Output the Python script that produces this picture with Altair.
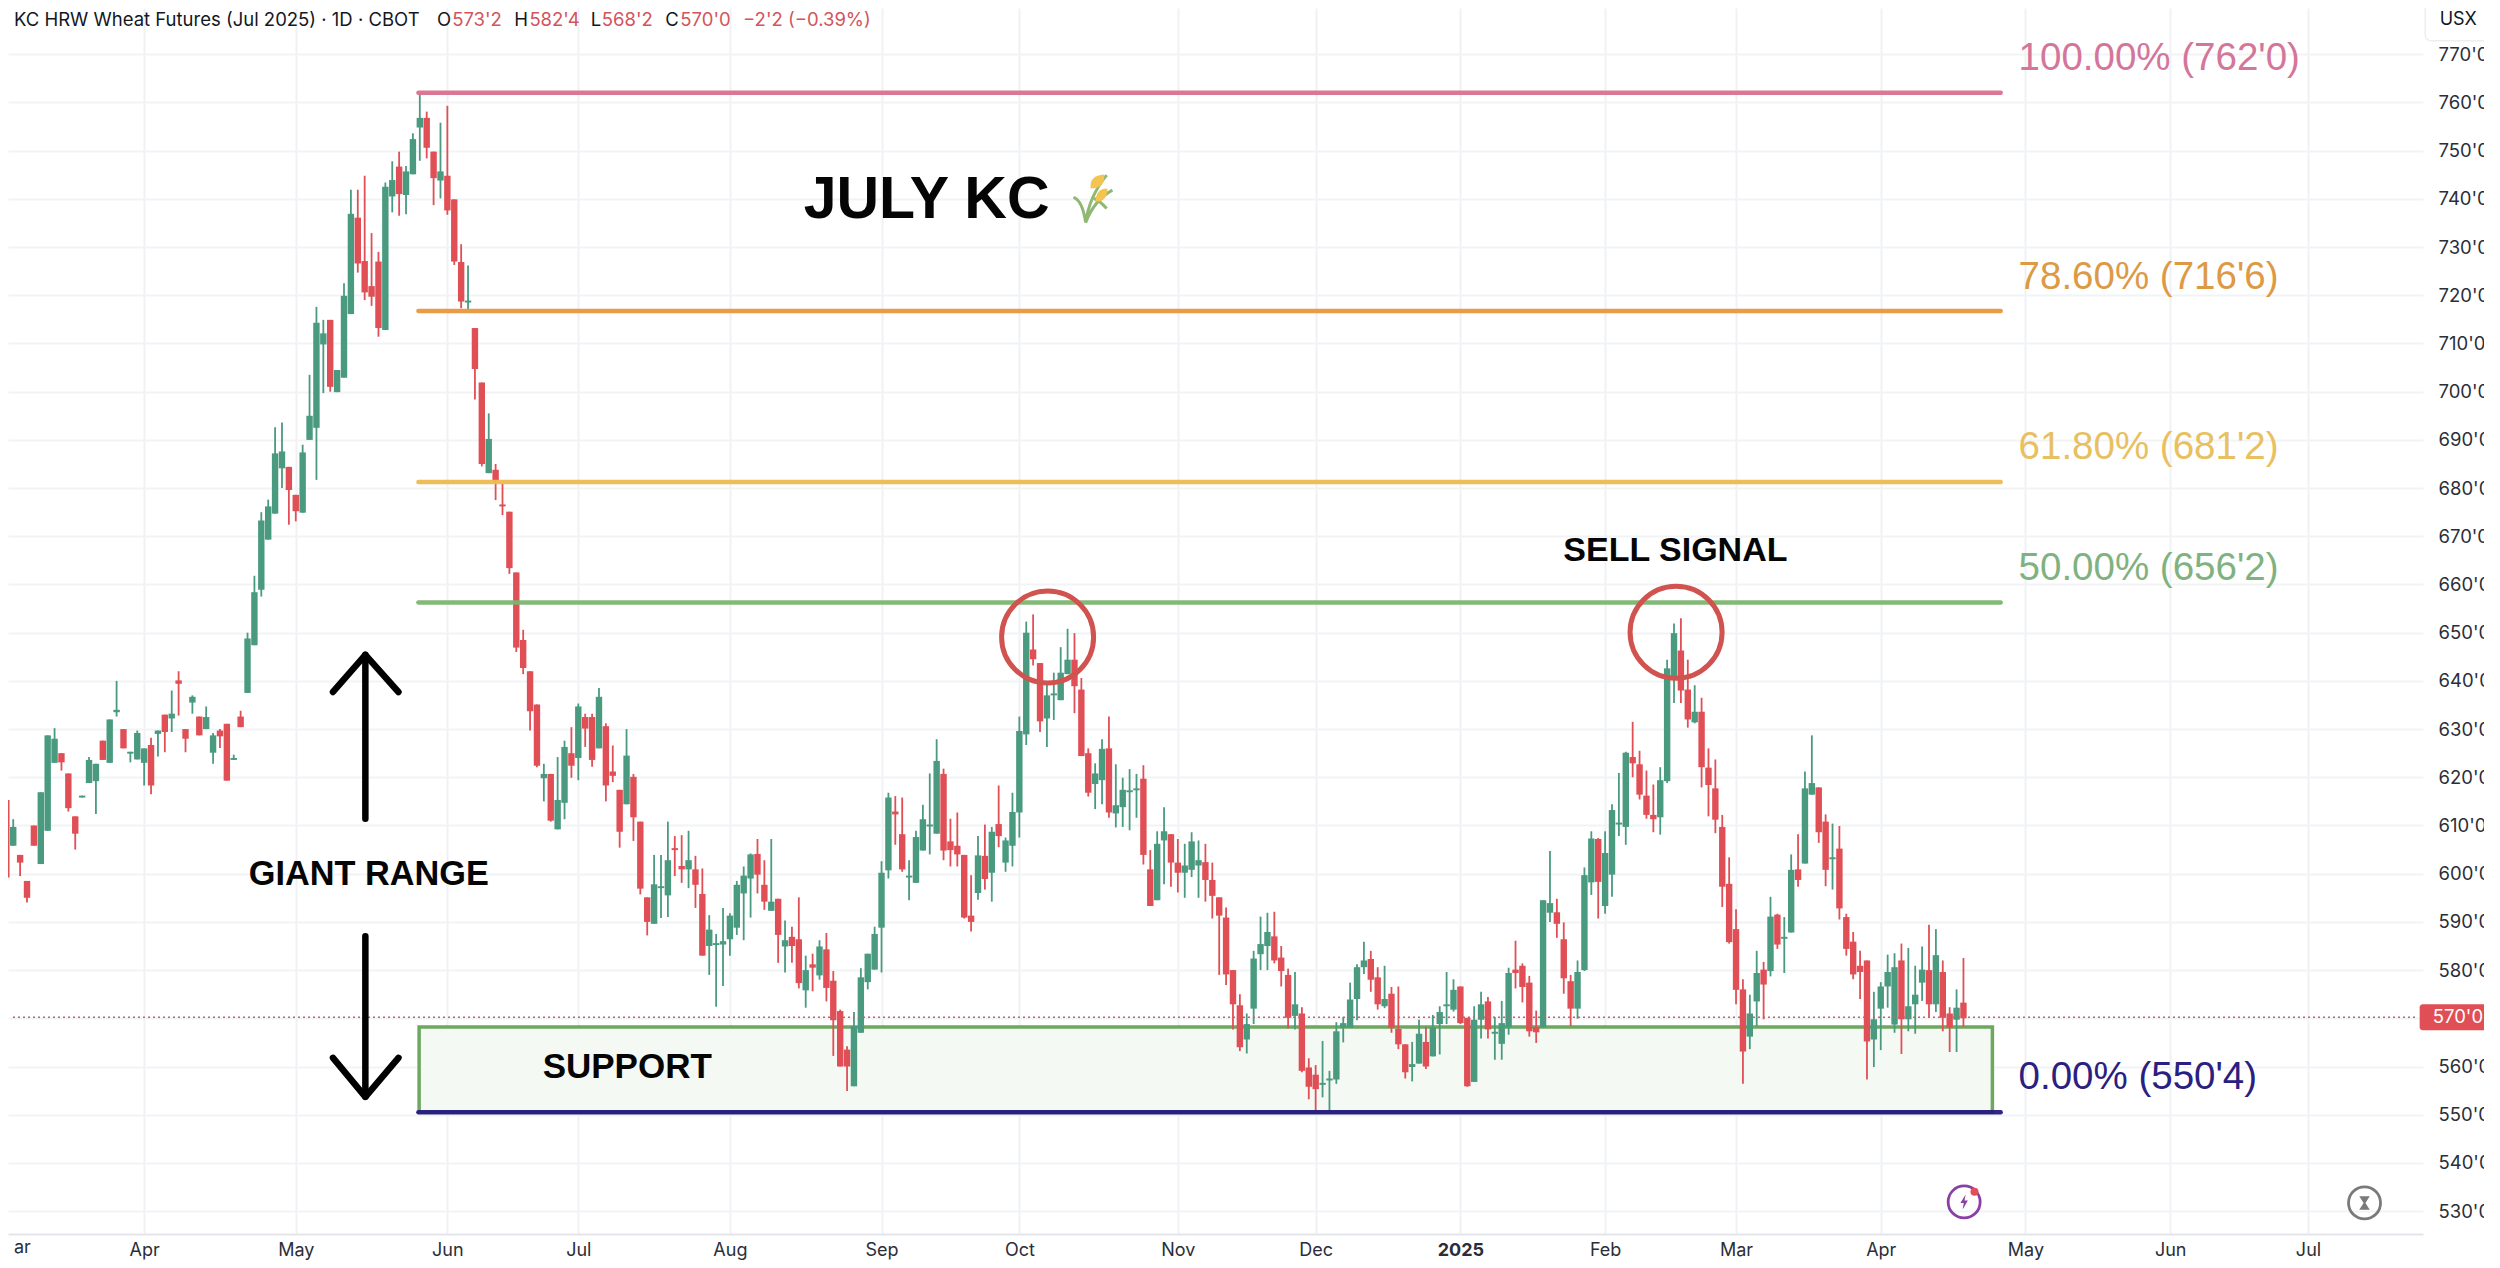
import altair as alt
import pandas as pd

opens = [
615.3,605.8,603.9,598.5,610,602,608.9,623,625,620.8,
611.9,615.8,618.8,619.2,627.6,623,633.5,630,624.9,623.7,
623,626.7,629,633,632.2,640.1,630,635.5,632.6,630,
625.1,629.7,631.1,623.6,632.6,637.5,647.4,658.9,669.3,674.7,
684.1,684.4,678.6,674.9,690,692.5,709.8,714.9,699.9,702.9,
716.1,736.1,727.1,721.9,727,712.8,740.5,746.7,740.8,745.1,
754.8,756.8,749.8,743.8,744.8,739.9,726.9,718.5,713.2,701.9,
683.1,683.8,676.6,675.1,662.5,648.5,642,635.1,619.8,620.7,
609.2,614.7,625,624,632.5,632.5,626,630.6,621.2,617.4,
614.4,620.1,610.8,595.1,589.6,597,595.5,605.3,601.6,600.9,
600.9,595.8,585,585.2,585.3,586.4,588.8,595.9,599,604.1,
597.7,592.3,594.8,584.9,586.9,586.4,575.8,581.2,578.9,584.3,
577.8,571.5,563.5,555.9,567,577.5,580.1,588.8,600.7,612.9,
608.2,599.2,598.1,604.8,609.8,608.3,620.7,606.7,605.8,603.9,
591.3,596,603.7,600.2,610.3,602.3,605.8,612.7,628.9,646.5,
643.7,632.2,637,636,641.4,644.4,638.2,625,618.6,619.4,
626,612.5,613.8,616.9,617.3,619.7,600.9,594.5,606.9,608.2,
602.3,600.2,600.8,601.7,602.4,598.7,595.1,590.9,580,572.7,
565.6,572,583.3,585,587,582.6,579,570.5,571,559.8,
558.3,556.2,557.1,557.3,568,568,574,580.6,582.3,578.5,
572.5,575.1,567.8,564.6,559.9,560.6,565.1,562.1,568.8,572.5,
571.8,576.6,570.1,556.8,569.7,573.5,566.8,564.7,568.1,580.1,
580.9,577.4,568.2,568.1,591.9,592,586.4,577.7,572,580,
598.2,607.2,593.3,599.8,610.2,609.7,624.2,622.7,616.2,612.2,
611.7,619.2,640.6,646.3,638.2,631.4,633.6,622,617.7,609.7,
597.9,588.5,576,566.2,573.5,580.1,579.8,591.5,586.5,587.8,
600.9,602.1,616.4,617.9,610.8,603,605.2,591,585.9,580.9,
582,565.6,572,576.6,568.7,582,569.8,572.9,577.4,580,
572.9,579.6,571,569.7,573.25]

closes = [
599.2,609.7,602.3,595,605.8,616.9,628.7,628,623.1,613.6,
608.3,616.2,623.6,622.8,623.6,632,634,626,625.3,629.2,
626,618.3,629.7,629.4,633.2,639.4,628,636.7,628.7,632.5,
628.7,628.5,619.3,624,630.4,648.8,658.4,673.3,676.2,687.2,
687.6,679.6,675.2,687.4,695,714.3,712.1,701,704.5,719.9,
736.9,726.6,720.6,719.7,713.2,742.5,743.9,741,745.7,752.4,
756.8,750.6,744.3,745.7,737.6,727,718.7,718.9,704.7,685,
690.2,681.5,676.2,663.4,646.9,642.7,633.7,622.4,620.7,611,
615.3,626.3,622.4,634.7,630.1,623.6,636.7,618.3,620.3,608.7,
624.5,611.7,596.9,590,597.8,597.4,602.8,604.9,600.9,602.8,
597.7,583,588.4,585.6,586,591.3,597.7,599.6,604,599.8,
594.2,594.2,587.3,586.2,585,577.3,580,580.5,584.9,576.3,
569.6,560,560,568.4,578.5,583.4,587.5,600.2,615.8,612.3,
600.9,599.6,607.6,611.3,610.2,623.4,604.8,604.9,604,590.9,
590,603.8,598.9,608.7,607.8,606.9,612.8,629.6,650,644.5,
631.6,637,637.4,641.7,644.4,638.9,624.4,616.8,620.8,625.9,
612.7,614.2,617.4,617.3,617.7,603.9,593.3,606.2,608.8,602.3,
600.2,601.7,606.7,602.8,598.7,595.4,591.3,579.1,572.9,564,
568.8,582.4,585.4,587.9,582,579.8,570.1,572.9,559.1,555.8,
555.3,556.6,557.5,567.3,569,573.9,580.6,582,578,572.9,
574,568,564.6,558.8,560.5,566.8,560,568.1,571.3,572.9,
575.9,569,555.9,569.7,572.9,567.7,567.2,569,579.4,579.4,
576.5,567.3,567.1,594.5,593.9,589.6,578.3,572,579.6,599.7,
607.3,598.3,604.3,613.2,610.6,625.1,622.9,616.4,612.2,611.3,
619.4,642.6,649.9,638,632,633.6,622.1,618.4,611.2,597.3,
585.8,575.9,563.1,571,579.4,577,591.1,585.3,586.9,600.8,
598.7,617.7,618.8,608.6,600.8,603.4,592.8,584.4,579.1,579.6,
565.2,569.8,576.6,579.6,580.6,569.8,572.5,574.9,580.1,572.9,
583.1,570.1,568.1,572.2,570]

highs = [
615.3,611.3,603.9,598.5,610,616.9,628.7,630.2,625,620.8,
611.9,616.2,624.2,622.8,627.6,632,640,630,625.3,629.7,
626,628.2,629.7,633,638,642,630,637,632.6,634.7,
629.2,630,631.1,624.7,633.8,650,661.8,675,677.6,692.6,
693.6,684.4,678.6,689,703.5,717.6,714.9,714.9,704.5,722.5,
741.9,741.9,744.8,732.9,729,743.4,747.8,749.8,746.8,753.6,
761.6,758.1,749.8,755.8,759.3,739.9,730.6,726.2,713.2,701.9,
695.5,685,681,675.1,662.5,650.6,642,635.1,622.8,620.7,
624.2,627.6,630.4,635.3,633.2,633.2,638.5,631.2,626.6,617.4,
630,620.7,610.8,595.1,603.9,603.9,610.8,607.8,608,608.9,
603.7,601.1,591.4,587.5,592.9,591.8,598.5,601.5,604.2,607.2,
602.8,607.2,594.8,590.3,589,595.1,583,583.4,586.2,587.7,
579.8,571.8,564.2,571.3,580.4,583.4,589,602.6,616.8,616.1,
615.8,602.8,608.9,614.3,620.8,627.9,621.8,611.4,612.7,603.9,
599.7,607.8,610.2,609.7,618.3,607.5,616.8,632.6,652.3,653.8,
643.7,639.4,641.7,647,650.8,649.9,640.6,626,622.9,627.9,
632.6,622.7,619.9,621.7,620.7,622.5,604.9,608.8,613.8,608.2,
607.2,606.2,608.6,606.9,606.2,602.3,595.1,593,580,575,
571,584,591.1,591.9,592.1,585,580.3,579.6,572.3,561.7,
560.3,565.3,559.1,569.2,570.3,577.4,581.2,585.9,584,580.6,
580.9,576.5,576.6,564.6,565.1,569.7,568.2,570.7,572.5,579.6,
578.1,576.6,570.1,572.5,575.5,574.4,570.3,573.6,580.5,586.1,
581.4,578.8,571.6,594.5,604.7,594.8,589.9,579,582,601.3,
608.8,607.4,608.8,614.4,620.9,625.3,631.5,625.5,621.4,618.5,
622.1,644.4,651.9,653,644.4,639.1,636.5,626,623.7,612.2,
603.4,592.6,578.1,574.9,584,581.7,595.2,591.7,591,604,
608.2,621.2,628.7,617.9,612.3,610.4,609.9,591.7,587.9,584,
582,575.5,577.5,583.2,583.5,585.5,584.6,580.9,584.9,589.4,
588.5,582,572.3,576,582.5]

lows = [
595.1,605.8,599.5,594,605.8,602,608.9,623,621.4,612.9,
605,615.8,618.8,612.4,623.6,623,632.6,626,623.1,623.7,
618.3,616.5,624.3,625.2,629.4,632.8,625.2,633.2,628.7,630,
622.8,626.1,619.3,623.6,630.4,637.5,647.4,657.5,669.3,674.7,
680,672.4,673.1,674.9,690,681.7,699.7,700,699.9,702.9,
716.1,724.7,719,717.8,711.4,712.8,737.2,736.5,736.8,745.1,
747.9,748.4,738.7,740.1,736.7,726.3,717.3,717,698.4,684.5,
683.1,677.5,674.4,662.2,646,641.4,629.7,622.1,615,610.8,
609.2,611.3,619.9,619.4,626.3,622.2,626,615,619,605.4,
614.4,606.8,595.7,587.2,589.6,590.8,591,599.5,598.1,597,
592.9,583,579,572.4,576.7,583,587.3,586.2,590.9,595.9,
592.5,592.3,581.5,579.5,581.5,576.2,572.2,575.6,578,573.5,
562.2,560,554.9,555.9,567,576,580.1,579.5,599,606,
600.4,594.5,598.1,604.8,604,608.3,602.8,601.5,601.5,590.7,
588,594.6,596.7,594.2,605.5,600.4,601.5,607.5,626.7,643.2,
629.4,626.3,631.9,636,641.4,633.3,624.4,616,613.4,614.4,
611.6,609.6,609.7,609,611.6,601.9,593.3,594.5,597.8,597.3,
596.1,595,599.3,595,594.2,590.7,579,576.9,567.7,563.2,
562.7,568.8,580,580,581.4,576.6,567.9,567.7,558.8,553.2,
550.6,553.6,550.6,556.4,565,568,569.6,579.2,575.5,571.8,
572.1,567,563.6,557.5,556.9,560.6,559.5,562.1,562.5,568.8,
571.4,568.8,555.8,556.8,565.8,565.8,561.4,561.4,566.6,576.2,
573.3,566.2,564.9,568.1,590,586.7,575.1,568.4,569.9,579.8,
595.6,590.7,591.7,595.2,607.8,606,620,615.4,611.4,608.6,
608.1,618.8,635.4,635.4,630.3,631.2,617.9,611.9,608.4,593.1,
585.5,572.9,556.4,563.6,568.4,569.8,578.7,584.4,579.4,587.8,
597.3,602.1,616.4,606.4,597.4,596.7,590.5,583,578.1,574,
557.3,559.9,563.4,572.2,567,562.6,567.3,566.8,573.6,570.1,
571.3,567.3,563,563,568.25]

month_idx = [20, 42, 64, 83, 105, 127, 147, 170, 190, 211, 232, 251, 272, 293, 314, 334]
month_lab = ["Apr", "May", "Jun", "Jul", "Aug", "Sep", "Oct", "Nov", "Dec", "2025", "Feb", "Mar", "Apr", "May", "Jun", "Jul"]
price_ticks = list(range(530, 780, 10))

fib_levels = [762, 716.75, 681.25, 656.25, 550.5]
fib_labels = ["100.00% (762'0)", "78.60% (716'6)", "61.80% (681'2)", "50.00% (656'2)", "0.00% (550'4)"]
fib_label_y = [769.2, 723.8, 688.5, 663.4, 557.9]
fib_line_col = ["#d8708f", "#e8963d", "#eeb94f", "#7db470", "#241a7e"]
fib_text_col = ["#d4759a", "#dd9a45", "#e8c060", "#7fb27f", "#2a2080"]
fib_start, fib_end = 59.8, 289.4

XDOM = [0.968, 349.96]
YDOM = [525.25, 779.6]
WIDTH, HEIGHT = 2415, 1226
FONT = "Inter"
RED, GREEN = "#e04f56", "#4a9a80"

x_s = alt.Scale(domain=XDOM, nice=False, zero=False)
y_s = alt.Scale(domain=YDOM, nice=False, zero=False)

x_axis = alt.Axis(
    values=month_idx,
    labelExpr="%s[indexof(%s, datum.value)]" % (month_lab, month_idx),
    grid=True, gridColor="#eff1f4", gridWidth=2,
    ticks=False, domain=True, domainColor="#e3e5ea", domainWidth=2,
    labelFont=FONT, labelFontSize=18, labelColor="#2a2e39", labelPadding=7,
    labelFontWeight=alt.condition("datum.value == 211", alt.value("bold"), alt.value("normal")),
    labelOverlap=False, title=None,
)
y_axis = alt.Axis(
    orient="right", values=price_ticks, labelExpr="datum.value + \"'0\"",
    grid=True, gridColor="#f1f3f5", gridWidth=2,
    ticks=False, domain=False,
    labelFont=FONT, labelFontSize=18.5, labelColor="#2a2e39", labelPadding=15,
    labelAlign="left", title=None,
)


def X(f="x"):
    return alt.X(f"{f}:Q", scale=x_s, axis=x_axis, title=None)


def Y(f="y"):
    return alt.Y(f"{f}:Q", scale=y_s, axis=y_axis, title=None)


def note(label, i, p, **kw):
    d = pd.DataFrame({"t": [label], "x": [i], "y": [p]})
    kw.setdefault("font", FONT)
    kw.setdefault("baseline", "middle")
    return alt.Chart(d).mark_text(**kw).encode(x=X(), y=Y(), text="t:N")


def box(x1, x2, y1, y2, **kw):
    d = pd.DataFrame({"x": [x1], "x2": [x2], "y": [y1], "y2": [y2]})
    return alt.Chart(d).mark_rect(**kw).encode(x=X(), x2="x2:Q", y=Y(), y2="y2:Q")


def sym(i, p, **kw):
    d = pd.DataFrame({"x": [i], "y": [p]})
    return alt.Chart(d).mark_point(**kw).encode(x=X(), y=Y())


def stroke(xs, ys, **kw):
    d = pd.DataFrame({"x": xs, "y": ys, "o": list(range(len(xs)))})
    return alt.Chart(d).mark_line(**kw).encode(x=X(), y=Y(), order="o:Q")


df = pd.DataFrame({"i": list(range(len(opens))), "o": opens, "h": highs, "l": lows, "c": closes})
df["dir"] = ["up" if c >= o else "down" for o, c in zip(opens, closes)]
col = alt.Color("dir:N", scale=alt.Scale(domain=["up", "down"], range=[GREEN, RED]), legend=None)

wicks = alt.Chart(df).mark_rule(strokeWidth=1.8, clip=True).encode(
    x=X("i"), y=Y("l"), y2="h:Q", color=col,
)
bodies = alt.Chart(df).mark_bar(size=6.4, clip=True).encode(
    x=X("i"), y=Y("o"), y2="c:Q", color=col,
)

layers = []
layers.append(box(59.9, 288.2, 568.2, 550.5, fill="#f4f9f3", stroke="#6ea85f", strokeWidth=3.5))
layers += [wicks, bodies]

for lv, c in zip(fib_levels, fib_line_col):
    d = pd.DataFrame({"x": [fib_start], "x2": [fib_end], "y": [lv]})
    layers.append(alt.Chart(d).mark_rule(stroke=c, strokeWidth=4.5, strokeCap="round", opacity=0.95)
                  .encode(x=X(), x2="x2:Q", y=Y()))

# last price line and tag
d = pd.DataFrame({"x": [XDOM[0]], "x2": [XDOM[1]], "y": [570.2]})
layers.append(alt.Chart(d).mark_rule(stroke="#c4626a", strokeWidth=1.5, strokeDash=[2, 3])
              .encode(x=X(), x2="x2:Q", y=Y()))
layers.append(box(350.2, 361.5, 572.9, 567.5, fill=RED, cornerRadius=3))
layers.append(note("570'0", 352.1, 570.2, fontSize=18.5, color="white", align="left"))

# USX box
layers.append(box(351, 363, 781, 772.8, fill="white", stroke="#eeeeee", strokeWidth=1.5, cornerRadius=6))
layers.append(note("USX", 355.8, 777.2, fontSize=18, color="#131722", align="center"))

# circles
layers.append(sym(151.1, 649.1, shape="circle", size=8464, filled=False, stroke="#d0534f", strokeWidth=5, opacity=1))
layers.append(sym(242.3, 650.1, shape="circle", size=8464, filled=False, stroke="#d0534f", strokeWidth=5, opacity=1))

# arrows
arrow = dict(stroke="black", strokeWidth=6.5, strokeCap="round", strokeJoin="round")
layers.append(stroke([52.1, 52.1], [611.4, 645.4], **arrow))
layers.append(stroke([47.4, 52.1, 56.9], [637.7, 645.4, 637.7], **arrow))
layers.append(stroke([52.1, 52.1], [587, 553.7], **arrow))
layers.append(stroke([47.4, 52.1, 56.9], [561.8, 553.7, 561.8], **arrow))

# labels
layers.append(note("JULY KC", 115.7, 739.8, font="Liberation Sans", fontSize=59, fontWeight="bold", color="#050505", align="left"))
layers.append(note("GIANT RANGE", 52.6, 599.8, font="Liberation Sans", fontSize=34.3, fontWeight="bold", color="#050505", align="center"))
layers.append(note("SUPPORT", 90.1, 559.9, font="Liberation Sans", fontSize=35, fontWeight="bold", color="#050505", align="center"))
layers.append(note("SELL SIGNAL", 242.2, 667, font="Liberation Sans", fontSize=34, fontWeight="bold", color="#050505", align="center"))

for t, p, c in zip(fib_labels, fib_label_y, fib_text_col):
    layers.append(note(t, 292, p, font="Liberation Sans", fontSize=38.5, color=c, align="left"))

# header
BLK, VAL = "#131722", "#d2545c"
for t, xp, c in [
    ("KC HRW Wheat Futures (Jul 2025) · 1D · CBOT", 1.1, BLK),
    ("O", 62.5, BLK), ("573'2", 64.7, VAL),
    ("H", 73.7, BLK), ("582'4", 75.9, VAL),
    ("L", 84.8, BLK), ("568'2", 86.4, VAL),
    ("C", 95.6, BLK), ("570'0", 97.8, VAL),
    ("−2'2 (−0.39%)", 106.9, VAL),
]:
    layers.append(note(t, xp, 777.2, fontSize=18.5, color=c, align="left"))

# what remains of the "Mar" label at the left edge
layers.append(note("ar", 1.1, 522.4, fontSize=18, color="#2a2e39", align="left"))

# wheat emoji
WX, WY = 157.6, 740.1
stems = ("M-.27,.97Q-.4,.07,-.76,-.04M-.27,.97Q-.13,-.07,.57,-.93M-.27,.97Q.07,.07,.8,-.33M.07,0Q.33,.13,.57,.4")
grains = ("M-.07,-.4Q-.13,-.93,.47,-.96Q.53,-.4,-.07,-.4ZM.13,.13Q.13,-.4,.6,-.4Q.6,.13,.13,.13Z")
layers.append(sym(WX, WY, shape=stems, size=2500, filled=False, stroke="#8fb873", strokeWidth=3, opacity=1))
layers.append(sym(WX, WY, shape=grains, size=2500, filled=True, fill="#f2c552", strokeWidth=0, opacity=1))

# bottom icons
layers.append(sym(284.1, 531.9, shape="circle", size=1024, filled=False, stroke="#8a3fa5", strokeWidth=2.8, opacity=1))
layers.append(sym(284.1, 531.9, shape="M.2,-1L-.5,.15L-.05,.15L-.2,1L.5,-.2L.05,-.2Z", size=225, filled=True, fill="#8a3fa5", strokeWidth=0, opacity=1))
layers.append(sym(285.6, 534, shape="circle", size=64, filled=True, fill=RED, strokeWidth=0, opacity=1))
layers.append(sym(342.2, 531.7, shape="circle", size=1024, filled=False, stroke="#7a7a7a", strokeWidth=2.8, opacity=1))
layers.append(sym(342.2, 531.7, shape="M-.7,-.9L.7,-.9L.12,0L.7,.9L-.7,.9L-.12,0Z", size=225, filled=True, fill="#7a7a7a", strokeWidth=0, opacity=1))

chart = alt.layer(*layers).properties(
    width=WIDTH, height=HEIGHT,
    padding={"left": 0, "top": 0, "right": 61, "bottom": 26},
    autosize=alt.AutoSizeParams(type="none"),
    background="white",
).configure_view(strokeWidth=0)

chart.save("out.html", embed_options={"renderer": "svg", "actions": False})
